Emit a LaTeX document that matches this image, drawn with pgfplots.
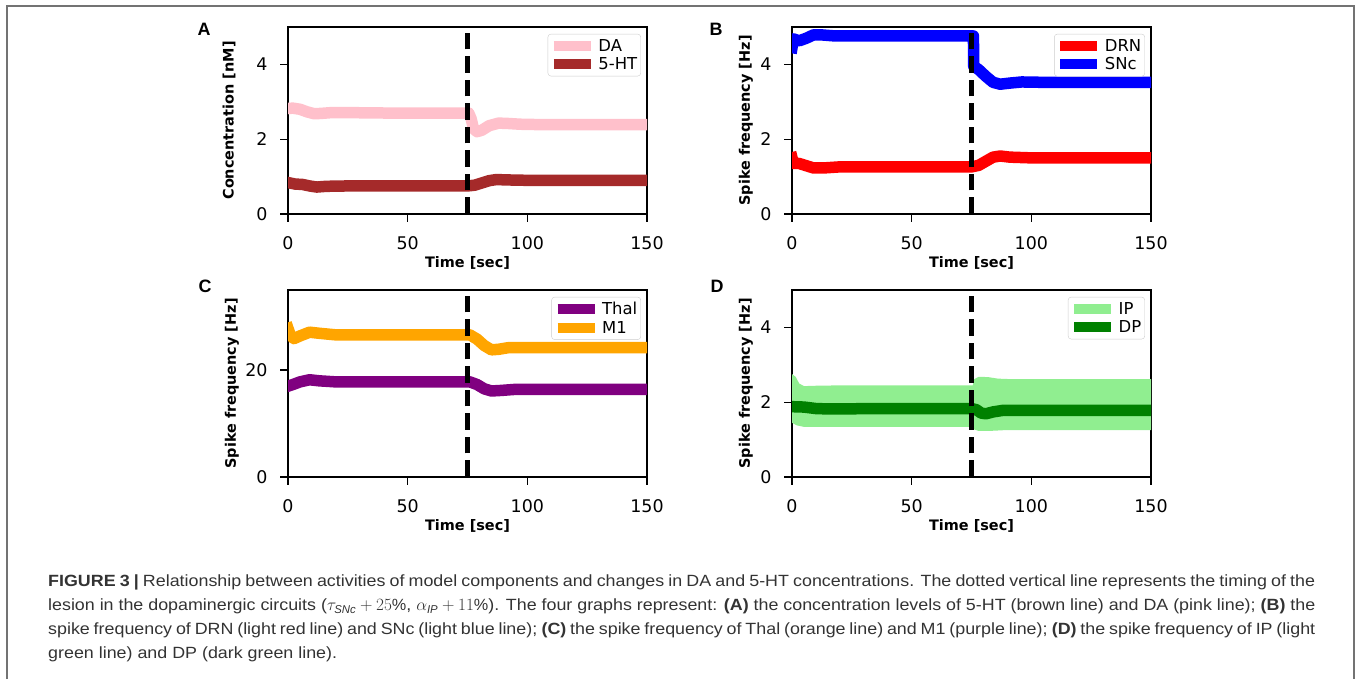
\documentclass[border=0pt]{standalone}
\usepackage{fontspec}
\setmainfont{Liberation Sans}
\newfontfamily\capfont[FakeStretch=1.1]{Liberation Sans}
\newfontfamily\dejavu{DejaVu Sans}
\usepackage{pgfplots}
\pgfplotsset{compat=1.18}
\definecolor{mpink}{HTML}{FFC0CB}
\definecolor{mbrown}{HTML}{A52A2A}
\definecolor{mred}{HTML}{FF0000}
\definecolor{mblue}{HTML}{0000FF}
\definecolor{mpurple}{HTML}{800080}
\definecolor{morange}{HTML}{FFA500}
\definecolor{mlgreen}{HTML}{90EE90}
\definecolor{mgreen}{HTML}{008000}
\pgfplotsset{
  panel/.style={
    scale only axis, width=359bp, height=187bp, anchor=south west,
    xmin=0, xmax=150, xtick={0,50,100,150}, ymin=0,
    tick pos=left, tick align=outside, major tick length=8bp,
    every tick/.style={black, line width=1.3bp},
    axis line style={line width=1.3bp},
    ticklabel style={font=\dejavu\fontsize{17.5}{20}\selectfont},
    xticklabel style={yshift=-11bp},
    yticklabel style={xshift=-9bp},
    /pgf/number format/assume math mode=true,
    label style={font=\dejavu\bfseries\fontsize{14.5}{17}\selectfont},
    xlabel={Time [sec]},
    xlabel style={at={(axis description cs:0.5,-0.262)}, anchor=center},
    legend style={at={(0.983,0.963)}, anchor=north east, draw=black!20,
      rounded corners=3bp, fill=white, fill opacity=0.8,
      text opacity=1, font=\dejavu\fontsize{16.5}{19}\selectfont,
      inner xsep=1bp, inner ysep=2.5bp, row sep=0bp,
      nodes={inner sep=2.5bp}},
    legend cell align=left,
    legend image code/.code={\draw[##1, draw opacity=1, line width=10bp, line cap=butt] (0bp,0bp) -- (37bp,0bp);},
    every axis plot/.append style={line width=11.5bp, line join=round, line cap=rect},
  },
  lesion/.style={black, line width=4.5bp, line cap=butt, dash pattern=on 16.5bp off 7bp, forget plot},
}
\begin{document}
\begin{tikzpicture}[x=1bp,y=1bp]
\path[use as bounding box] (0,0) rectangle (1357,679);
% frame
\draw[black!55, line width=1.5bp] (7,0) -- (7,673) -- (1354,673) -- (1354,0);
% panel letters
\node[font=\bfseries\fontsize{18}{20}\selectfont] at (204,650) {A};
\node[font=\bfseries\fontsize{18}{20}\selectfont] at (716,650) {B};
\node[font=\bfseries\fontsize{18}{20}\selectfont] at (205,393) {C};
\node[font=\bfseries\fontsize{18}{20}\selectfont] at (717,393) {D};

% ---------- A ----------
\begin{axis}[panel, at={(288bp,465bp)}, ymax=5, ytick={0,2,4},
  ylabel={Concentration [nM]},
  ylabel style={at={(axis description cs:-0.164,0.5)}, anchor=center}]
\addplot[mpink] coordinates {(0,2.82) (2,2.83) (5,2.80) (8,2.73) (11,2.68) (14,2.69) (18,2.71) (25,2.71) (40,2.70) (60,2.70) (75.5,2.70) (76.5,2.55) (77.5,2.28) (79,2.20) (81,2.24) (84,2.36) (88,2.43) (92,2.42) (97,2.40) (105,2.39) (150,2.39)};
\addlegendentry{DA}
\addplot[mbrown] coordinates {(0,0.84) (3,0.80) (6,0.79) (9,0.75) (12,0.72) (16,0.74) (25,0.75) (75,0.75) (78,0.77) (81,0.83) (84,0.89) (87,0.92) (92,0.91) (100,0.90) (150,0.90)};
\addlegendentry{5-HT}
\addplot[lesion] coordinates {(75,0) (75,5)};
\end{axis}

% ---------- B ----------
\begin{axis}[panel, at={(792bp,465bp)}, ymax=5, ytick={0,2,4},
  ylabel={Spike frequency [Hz]},
  ylabel style={at={(axis description cs:-0.128,0.5)}, anchor=center}]
\addplot[mred] coordinates {(0,1.50) (0.6,1.35) (3,1.35) (6,1.29) (9,1.23) (13,1.23) (20,1.26) (40,1.26) (75,1.26) (78,1.30) (81,1.41) (84,1.52) (87,1.55) (91,1.52) (100,1.50) (150,1.50)};
\addlegendentry{DRN}
\addplot[mblue] coordinates {(0,4.45) (0.6,4.68) (3,4.63) (6,4.70) (9,4.79) (12,4.79) (18,4.76) (40,4.76) (75.8,4.76) (75.9,3.95) (78,3.86) (81,3.68) (84,3.52) (87,3.47) (91,3.50) (96,3.53) (105,3.52) (150,3.52)};
\addlegendentry{SNc}
\addplot[lesion] coordinates {(75,0) (75,5)};
\end{axis}

% ---------- C ----------
\begin{axis}[panel, at={(288bp,202bp)}, ymax=35, ytick={0,20},
  ylabel={Spike frequency [Hz]},
  ylabel style={at={(axis description cs:-0.156,0.5)}, anchor=center}]
\addplot[mpurple] coordinates {(0,17.0) (2,17.3) (5,17.8) (9,18.2) (13,18.0) (20,17.8) (40,17.8) (76,17.8) (79,17.3) (82,16.5) (85,16.1) (89,16.2) (95,16.4) (150,16.4)};
\addlegendentry{Thal}
\addplot[morange] coordinates {(0,27.8) (1,26.5) (2.5,25.9) (5,26.4) (9,27.1) (13,26.9) (20,26.6) (40,26.6) (76,26.6) (79,25.8) (82,24.6) (85,23.8) (88,23.9) (92,24.2) (100,24.2) (150,24.2)};
\addlegendentry{M1}
\addplot[lesion] coordinates {(75,0) (75,35)};
\end{axis}

% ---------- D ----------
\begin{axis}[panel, at={(792bp,202bp)}, ymax=5, ytick={0,2,4},
  ylabel={Spike frequency [Hz]},
  ylabel style={at={(axis description cs:-0.128,0.5)}, anchor=center}]
\addplot[draw=none, fill=mlgreen, line width=0pt, forget plot] coordinates {(0,2.75) (1.5,2.68) (3,2.50) (5,2.43) (10,2.44) (20,2.45) (75.6,2.45) (75.7,2.60) (78,2.68) (82,2.67) (86,2.63) (90,2.62) (150,2.62)
 (150,1.25) (88,1.25) (82,1.23) (78,1.23) (75.7,1.28) (75.6,1.34) (10,1.34) (5,1.34) (2,1.38) (0,1.45)} -- cycle;
\addlegendimage{mlgreen}
\addlegendentry{IP}
\addplot[mgreen] coordinates {(0,1.88) (5,1.87) (10,1.83) (15,1.82) (40,1.83) (75,1.83) (77,1.80) (79,1.71) (81,1.69) (84,1.74) (88,1.78) (150,1.78)};
\addlegendentry{DP}
\addplot[lesion] coordinates {(75,0) (75,5)};
\end{axis}

% caption
\begin{scope}[every node/.style={anchor=base west, inner sep=0, text=black!80, font=\capfont\fontsize{16.3}{20}\selectfont}]
\node at (48,92) {\makebox[1267bp][s]{\textbf{FIGURE 3 |} Relationship between activities of model components and changes in DA and 5-HT concentrations. The dotted vertical line represents the timing of the}};
\node at (48,68) {\makebox[1267bp][s]{lesion in the dopaminergic circuits ($\tau_{\mathit{SNc}}+25\%$, $\alpha_{\mathit{IP}}+11\%$). The four graphs represent: \textbf{(A)} the concentration levels of 5-HT (brown line) and DA (pink line); \textbf{(B)} the}};
\node at (48,44) {\makebox[1267bp][s]{spike frequency of DRN (light red line) and SNc (light blue line); \textbf{(C)} the spike frequency of Thal (orange line) and M1 (purple line); \textbf{(D)} the spike frequency of IP (light}};
\node at (48,20) {green line) and DP (dark green line).};
\end{scope}
\end{tikzpicture}
\end{document}
